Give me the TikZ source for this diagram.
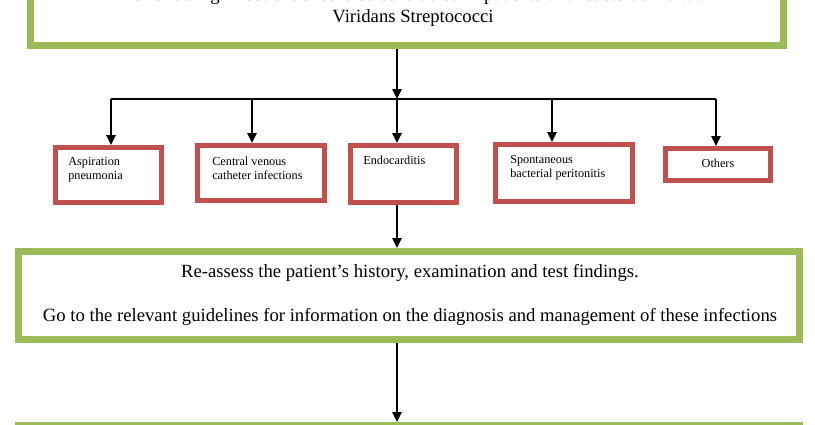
\documentclass[tikz,border=0pt]{standalone}
\usepackage{fontspec}
\setmainfont{Liberation Serif}
\usetikzlibrary{arrows.meta}

\definecolor{boxgreen}{HTML}{9BBB59}
\definecolor{boxred}{HTML}{C0504D}

\tikzset{
  greenbox/.style={rectangle,draw=boxgreen,line width=3.75pt},
  thinline/.style={draw=boxgreen,line width=1pt},
  redbox/.style={rectangle,draw=boxred,line width=3.6pt},
  bigtext/.style={font=\fontsize{14}{16.5}\selectfont,align=center,inner sep=0pt},
  smalltext/.style={font=\fontsize{9.2}{10.4}\selectfont,align=left,inner sep=0pt},
  arr/.style={line width=1.4pt,-{Triangle[length=7.5pt,width=7pt]}}
}

\begin{document}
\begin{tikzpicture}[x=0.75pt,y=-0.75pt]
      \useasboundingbox (0,0) rectangle (815,425);

      % green boxes
      \node[greenbox,minimum width=566.25pt,minimum height=79.875pt] (top)  at (407,-6.75) {};
      \node[greenbox,minimum width=587.25pt,minimum height=67.5pt]   (big)  at (409,295.5) {};
      \node[greenbox,minimum width=587.25pt,minimum height=60pt]     (next) at (409,464.5) {};
      \foreach \n in {top,big,next}
        \draw[thinline] ([shift={(6,6)}]\n.north west) rectangle ([shift={(-6,-6)}]\n.south east);

      % infection boxes
      \begin{scope}[every node/.style={redbox}]
        \node[minimum width=79.5pt, minimum height=41.25pt] (asp)  at (108.5,175) {};
        \node[minimum width=95.25pt,minimum height=41.25pt] (cvc)  at (261,173)   {};
        \node[minimum width=79.5pt, minimum height=42.75pt] (endo) at (403.5,174) {};
        \node[minimum width=102.75pt,minimum height=42.75pt] (sbp) at (564,173)   {};
        \node[minimum width=78.75pt,minimum height=24pt]    (oth)  at (718,164.5) {};
      \end{scope}

      % texts
      \node[bigtext] (topt) at (413,7)
        {The following infections should be considered in patients with bacteraemia with\\Viridans Streptococci};
      \node[bigtext] (bigt) at (410,295)
        {Re-assess the patient’s history, examination and test findings.\\[16.5pt]Go to the relevant guidelines for information on the diagnosis and management of these infections};
      \node[smalltext,anchor=west] (aspt)  at (68,170)  {Aspiration\\pneumonia};
      \node[smalltext,anchor=west] (cvct)  at (212,168.5) {Central venous\\catheter infections};
      \node[smalltext,anchor=west] (endot) at (363,160) {Endocarditis};
      \node[smalltext,anchor=west] (sbpt)  at (510,168) {Spontaneous\\bacterial peritonitis};
      \node[smalltext] (otht) at (718,163) {Others};

      % branching line
      \coordinate (b1) at (111,99);
      \coordinate (b2) at (252,99);
      \coordinate (b3) at (397,99);
      \coordinate (b4) at (552,99);
      \coordinate (b5) at (716,99);
      \draw[line width=1pt] (b1) -- (b5);

      \draw[arr] (top.south -| b3) -- (b3);
      \draw[arr] (b1) -- (b1 |- asp.north);
      \draw[arr] (b2) -- (b2 |- cvc.north);
      \draw[arr] (b3) -- (b3 |- endo.north);
      \draw[arr] (b4) -- (b4 |- sbp.north);
      \draw[arr] (b5) -- (b5 |- oth.north);
      \draw[arr] (endo.south -| b3) -- (big.north -| b3);
      \draw[arr] (big.south -| b3) -- (next.north -| b3);

    \end{tikzpicture}
\end{document}
